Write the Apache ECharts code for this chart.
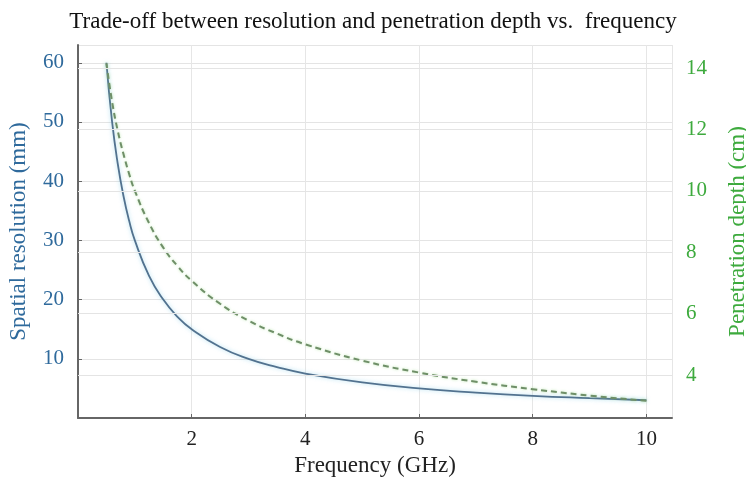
<!DOCTYPE html>
<html>
<head>
<meta charset="utf-8">
<script src="https://cdn.jsdelivr.net/npm/echarts@6/dist/echarts.min.js"></script>
<style>html,body{margin:0;padding:0;background:#fff}#c{width:746px;height:482px}</style>
</head>
<body>
<div id="c"></div>
<script>
var titleText = 'Trade-off between resolution and penetration depth vs.  frequency';
var frequency = [0.5, 0.6, 0.7, 0.8, 0.9, 1, 1.25, 1.5, 1.75, 2, 2.5, 3, 3.5, 4, 5, 6, 7, 8, 9, 10];
var resolution = [60, 50, 42.9, 37.5, 33.3, 30, 24, 20, 17.1, 15, 12, 10, 8.6, 7.5, 6, 5, 4.3, 3.75, 3.35, 3.0];
var depth = [14.15, 12.9, 11.95, 11.2, 10.55, 10.0, 8.95, 8.15, 7.55, 7.07, 6.32, 5.77, 5.35, 5.0, 4.47, 4.08, 3.78, 3.54, 3.33, 3.16];
var rightTicks = [4, 6, 8, 10, 12, 14];

var serif = '"Liberation Serif", "Times New Roman", serif';
var blueText = '#2f6a9c';
var greenText = '#3daa3d';

var chart = echarts.init(document.getElementById('c'));
chart.setOption({
  animation: false,
  backgroundColor: '#ffffff',
  title: {
    text: titleText, left: 'center', top: 5,
    textStyle: {fontFamily: serif, fontSize: 23, fontWeight: 'normal', color: '#111'}
  },
  grid: {left: 78, right: 74, top: 45, bottom: 64, outerBoundsMode: 'none', containLabel: false},
  xAxis: {
    type: 'value', min: 0, max: 10.45, interval: 2,
    name: 'Frequency (GHz)', nameLocation: 'middle', nameGap: 36,
    nameTextStyle: {fontFamily: serif, fontSize: 23, color: '#222'},
    axisLine: {show: true, onZero: false, lineStyle: {color: '#666', width: 2}},
    axisTick: {show: true, inside: true, length: 4, lineStyle: {color: '#666'}},
    axisLabel: {showMinLabel: false, fontFamily: serif, fontSize: 21, color: '#222', margin: 11},
    splitLine: {show: true, lineStyle: {color: '#e6e6e6', width: 1}}
  },
  yAxis: [{
    type: 'value', min: 0, max: 63, interval: 10, position: 'left',
    name: 'Spatial resolution (mm)', nameLocation: 'middle', nameGap: 48,
    nameTextStyle: {fontFamily: serif, fontSize: 23, color: blueText},
    axisLine: {show: true, lineStyle: {color: '#666', width: 2}},
    axisTick: {show: true, inside: true, length: 4, lineStyle: {color: '#666'}},
    axisLabel: {showMinLabel: false, showMaxLabel: false, fontFamily: serif, fontSize: 21, color: blueText, margin: 14},
    splitLine: {show: true, lineStyle: {color: '#e4e4e4', width: 1}}
  }, {
    type: 'value', min: 2.6, max: 14.75, position: 'right',
    name: 'Penetration depth (cm)', nameLocation: 'middle', nameGap: 54,
    nameTextStyle: {fontFamily: serif, fontSize: 23, color: greenText},
    axisLine: {show: false},
    axisTick: {show: true, inside: true, length: 3, customValues: rightTicks, lineStyle: {color: '#777'}},
    axisLabel: {customValues: rightTicks, fontFamily: serif, fontSize: 21, color: greenText, margin: 14},
    splitLine: {show: false}
  }],
  series: [{
    type: 'line', yAxisIndex: 0, smooth: true, symbol: 'none',
    data: frequency.map(function (f, i) { return [f, resolution[i]]; }),
    lineStyle: {color: '#52728f', width: 1.8, shadowColor: 'rgba(120,200,230,0.6)', shadowBlur: 4},
    z: 3
  }, {
    type: 'line', yAxisIndex: 1, smooth: true, symbol: 'none',
    data: frequency.map(function (f, i) { return [f, depth[i]]; }),
    lineStyle: {color: '#6f8f68', width: 2, type: [6, 4], shadowColor: 'rgba(150,220,130,0.6)', shadowBlur: 3},
    z: 4
  }, {
    type: 'line', yAxisIndex: 1, symbol: 'none', silent: true,
    data: [],
    markLine: {
      silent: true, symbol: 'none', label: {show: false},
      lineStyle: {color: '#e4e4e4', width: 1, type: 'solid'},
      data: rightTicks.map(function (v) { return {yAxis: v}; })
    }
  }]
});
</script>
</body>
</html>
